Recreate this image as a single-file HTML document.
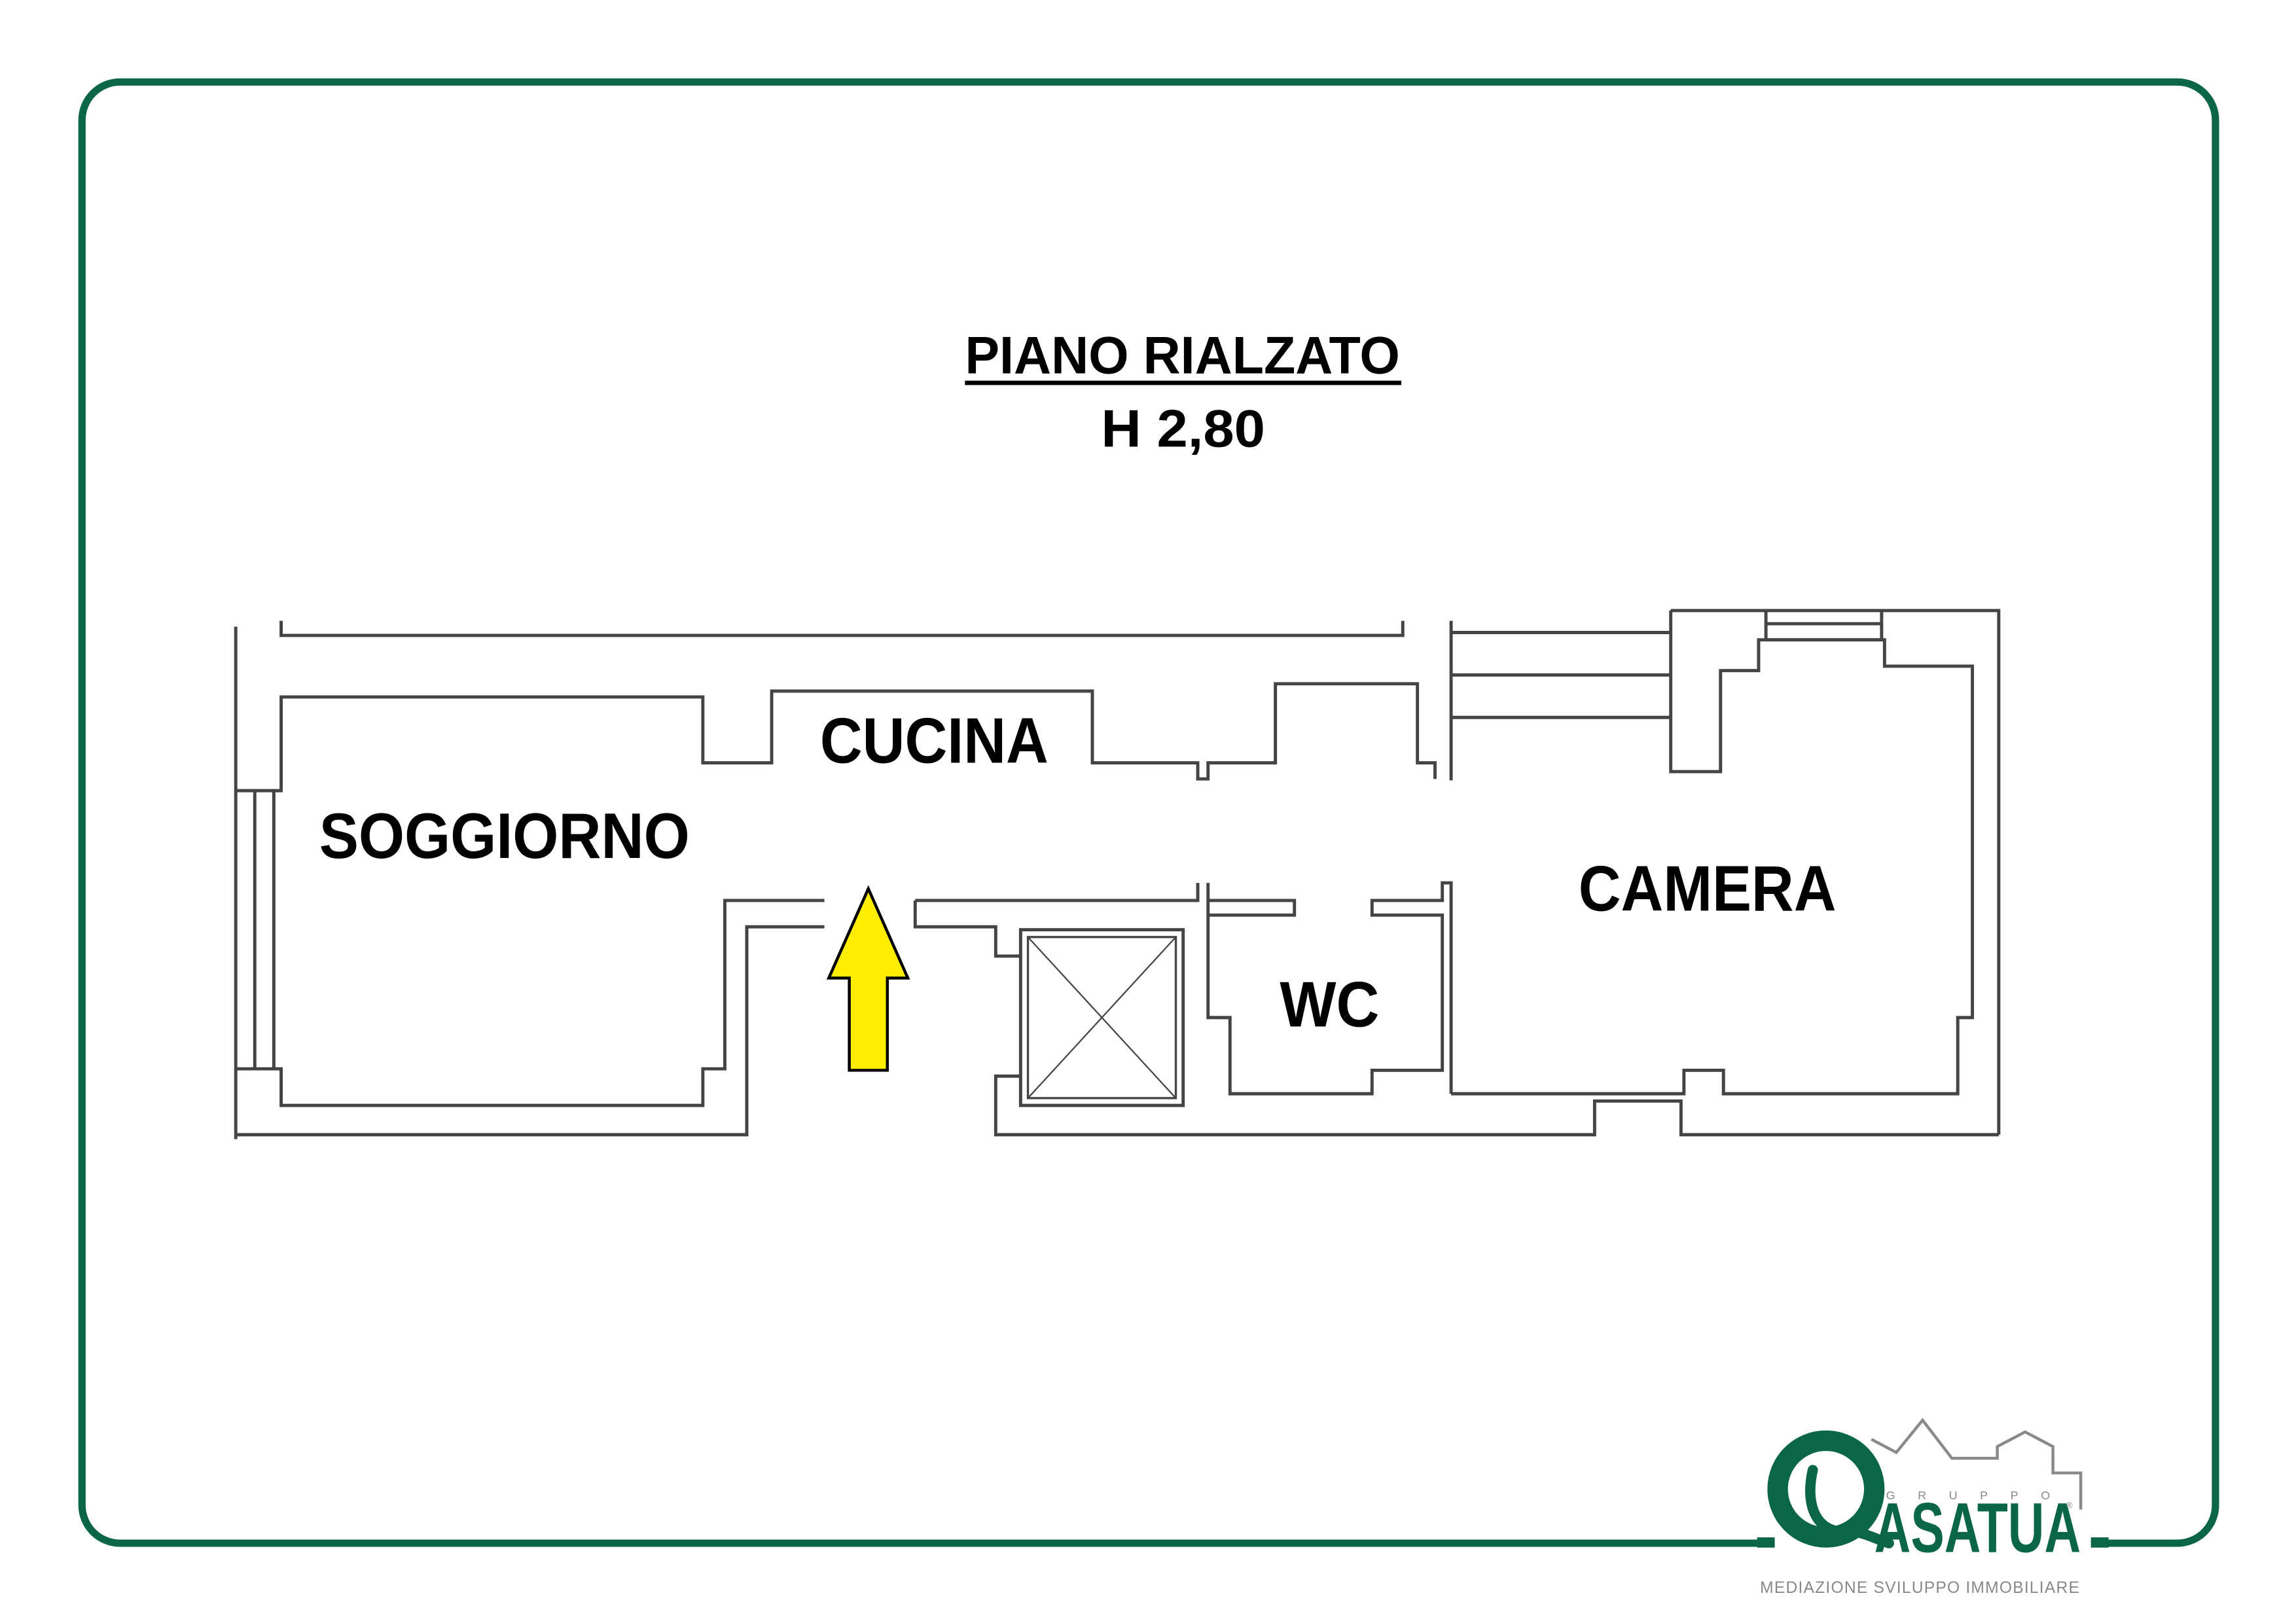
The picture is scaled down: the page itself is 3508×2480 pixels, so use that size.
<!DOCTYPE html>
<html><head><meta charset="utf-8"><style>
html,body{margin:0;padding:0;background:#fff}
svg{display:block}
</style></head><body>
<svg width="3508" height="2480" viewBox="0 0 1568 1108.5" preserveAspectRatio="none" xmlns="http://www.w3.org/2000/svg">
<rect x="0" y="0" width="1568" height="1108.5" fill="#fff"/>
<rect x="56" y="56" width="1457" height="998" rx="26" ry="26" fill="none" stroke="#0b6646" stroke-width="5"/>
<g font-family="'Liberation Sans', sans-serif" font-weight="bold" fill="#000">
<text x="659" y="255" font-size="36" textLength="297" lengthAdjust="spacingAndGlyphs">PIANO RIALZATO</text>
<rect x="659" y="260" width="298" height="3"/>
<text x="752" y="305" font-size="36" textLength="112" lengthAdjust="spacingAndGlyphs">H 2,80</text>
<text x="218" y="586" font-size="44" textLength="253" lengthAdjust="spacingAndGlyphs">SOGGIORNO</text>
<text x="560" y="521" font-size="44" textLength="156" lengthAdjust="spacingAndGlyphs">CUCINA</text>
<text x="1078" y="622" font-size="44" textLength="176" lengthAdjust="spacingAndGlyphs">CAMERA</text>
<text x="874" y="701" font-size="44" textLength="68" lengthAdjust="spacingAndGlyphs">WC</text>
</g>
<g fill="none" stroke="#444" stroke-width="2.2">
<path d="M161 428 V778"/>
<path d="M192 424 V434 H958 V424"/>
<path d="M161 540 H192 V476 H480 V521 H527 V472 H746 V521 H818 V532 H825 V521 H871 V467 H968 V521 H980 V532"/>
<path d="M991 424 V533"/>
<path d="M991 432 H1141 M991 461 H1141 M991 490 H1141"/>
<path d="M174 540 V730 M187 540 V730 M161 730 H192 V755 H480 V730 H495 V615 H563"/>
<path d="M161 775 H510 V633 H563"/>
<path d="M625 615 H818 V603 M625 615 V633 H680 V653 H697"/>
<path d="M825 603 V695 H840 V747 H937 V731 H985 V625 H937 V615 H985 V603 H991 V747"/>
<path d="M825 615 H884 V625 H825"/>
<path d="M697 735 H680 V775 H1089 V752 H1148 V775 H1365"/>
<rect x="697" y="635" width="111" height="120"/>
<rect x="702" y="640" width="101" height="110" stroke-width="1.5"/>
<path d="M702 640 L803 750 M803 640 L702 750" stroke-width="1"/>
<path d="M1141 417 H1365 V775"/>
<path d="M1141 417 V527 H1175 V458 H1201 V437 H1287 V455 H1347 V695 H1337 V747 H1177 V731 H1150 V747 H991"/>
<path d="M1206 426 H1285 M1206 437 H1285 M1206 417 V437 M1285 417 V437"/>
</g>
<polygon points="593,607 620,668 606,668 606,731 580,731 580,668 566,668" fill="#ffee00" stroke="#000" stroke-width="2"/>
<!-- logo -->
<rect x="1212" y="1045" width="216" height="20" fill="#fff"/>
<rect x="1200" y="1050" width="12" height="7" fill="#0b6646"/>
<rect x="1428" y="1050" width="12" height="7" fill="#0b6646"/>
<polyline points="1278,983 1295,992 1313,970 1333,996 1364,996 1364,988 1383,978 1402,988 1402,1006 1421,1006 1421,1031" fill="none" stroke="#8a8a8a" stroke-width="2"/>
<circle cx="1247" cy="1017" r="33" fill="none" stroke="#0b6646" stroke-width="14"/>
<path d="M1238 1004 C1232 1030 1242 1048 1262 1046 C1272 1046 1278 1050 1290 1054" fill="none" stroke="#0b6646" stroke-width="7" stroke-linecap="round"/>
<text x="1280" y="1060" font-family="'Liberation Sans', sans-serif" font-weight="bold" font-size="48" fill="#0b6646" textLength="141" lengthAdjust="spacingAndGlyphs">ASATUA</text>
<text x="1288" y="1024" font-family="'Liberation Sans', sans-serif" font-size="8" fill="#888" textLength="112" lengthAdjust="spacing">GRUPPO</text>
<text x="1411" y="1030" font-family="'Liberation Sans', sans-serif" font-size="6" fill="#888">®</text>
<text x="1202" y="1088" font-family="'Liberation Sans', sans-serif" font-size="11" fill="#888" textLength="218" lengthAdjust="spacing">MEDIAZIONE SVILUPPO IMMOBILIARE</text>
</svg>
</body></html>
